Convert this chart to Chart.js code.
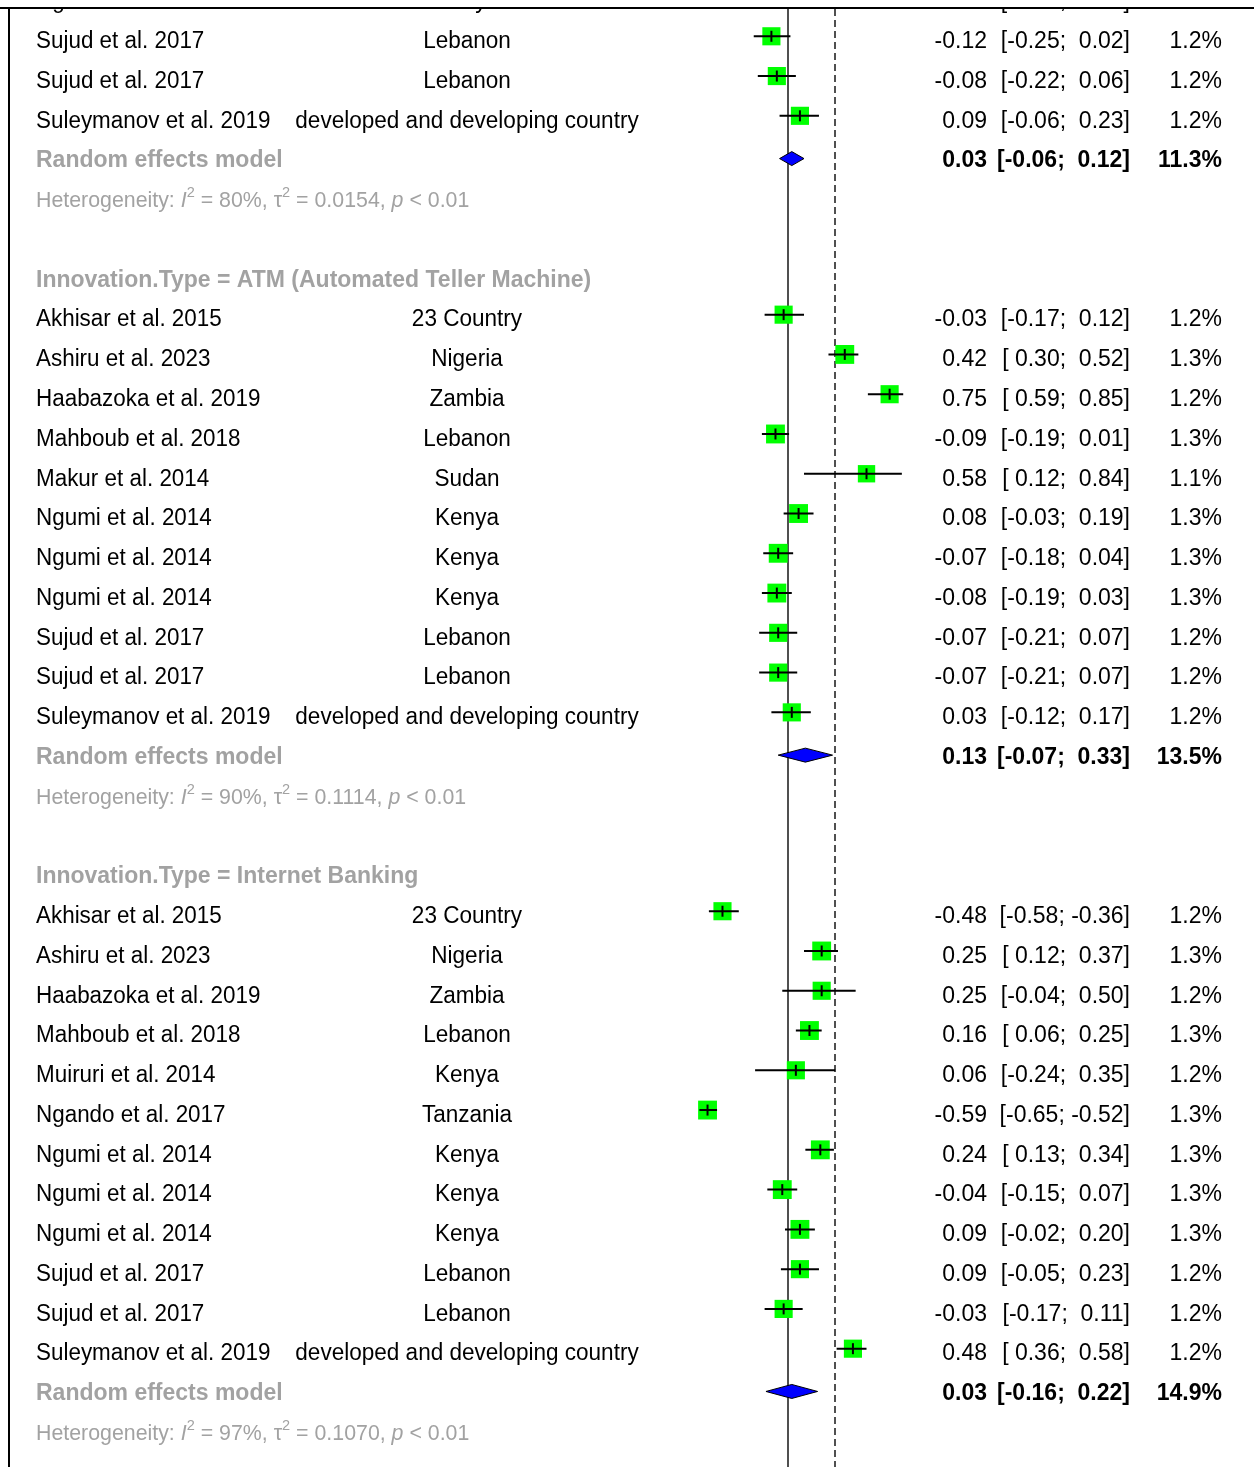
<!DOCTYPE html>
<html>
<head>
<meta charset="utf-8">
<script src="https://cdn.jsdelivr.net/npm/chart.js@4.4.0/dist/chart.umd.min.js"></script>
<style>
  html, body { margin: 0; padding: 0; background: #fff; }
  #forest { display: block; }
</style>
</head>
<body>
<canvas id="forest" width="1254" height="1467"></canvas>
<script>
// subgroup headings (the first subgroup starts above the visible window)
const groupTitles = [
  null,
  'Innovation.Type = ATM (Automated Teller Machine)',
  'Innovation.Type = Internet Banking'
];

// individual studies
const studyGroup = [0, 0, 0, 0,
  1, 1, 1, 1, 1, 1, 1, 1, 1, 1, 1,
  2, 2, 2, 2, 2, 2, 2, 2, 2, 2, 2, 2];
const studyNames = [
  'Ngumi et al. 2014', 'Sujud et al. 2017', 'Sujud et al. 2017', 'Suleymanov et al. 2019',
  'Akhisar et al. 2015', 'Ashiru et al. 2023', 'Haabazoka et al. 2019', 'Mahboub et al. 2018',
  'Makur et al. 2014', 'Ngumi et al. 2014', 'Ngumi et al. 2014', 'Ngumi et al. 2014',
  'Sujud et al. 2017', 'Sujud et al. 2017', 'Suleymanov et al. 2019',
  'Akhisar et al. 2015', 'Ashiru et al. 2023', 'Haabazoka et al. 2019', 'Mahboub et al. 2018',
  'Muiruri et al. 2014', 'Ngando et al. 2017', 'Ngumi et al. 2014', 'Ngumi et al. 2014',
  'Ngumi et al. 2014', 'Sujud et al. 2017', 'Sujud et al. 2017', 'Suleymanov et al. 2019'
];
const countries = [
  'Kenya', 'Lebanon', 'Lebanon', 'developed and developing country',
  '23 Country', 'Nigeria', 'Zambia', 'Lebanon', 'Sudan', 'Kenya', 'Kenya', 'Kenya',
  'Lebanon', 'Lebanon', 'developed and developing country',
  '23 Country', 'Nigeria', 'Zambia', 'Lebanon', 'Kenya', 'Tanzania', 'Kenya', 'Kenya',
  'Kenya', 'Lebanon', 'Lebanon', 'developed and developing country'
];
const estimates = [-0.05, -0.12, -0.08, 0.09,
  -0.03, 0.42, 0.75, -0.09, 0.58, 0.08, -0.07, -0.08, -0.07, -0.07, 0.03,
  -0.48, 0.25, 0.25, 0.16, 0.06, -0.59, 0.24, -0.04, 0.09, 0.09, -0.03, 0.48];
const ciLower = [-0.16, -0.25, -0.22, -0.06,
  -0.17, 0.30, 0.59, -0.19, 0.12, -0.03, -0.18, -0.19, -0.21, -0.21, -0.12,
  -0.58, 0.12, -0.04, 0.06, -0.24, -0.65, 0.13, -0.15, -0.02, -0.05, -0.17, 0.36];
const ciUpper = [0.06, 0.02, 0.06, 0.23,
  0.12, 0.52, 0.85, 0.01, 0.84, 0.19, 0.04, 0.03, 0.07, 0.07, 0.17,
  -0.36, 0.37, 0.50, 0.25, 0.35, -0.52, 0.34, 0.07, 0.20, 0.23, 0.11, 0.58];
const weights = [1.3, 1.2, 1.2, 1.2,
  1.2, 1.3, 1.2, 1.3, 1.1, 1.3, 1.3, 1.3, 1.2, 1.2, 1.2,
  1.2, 1.3, 1.2, 1.3, 1.2, 1.3, 1.3, 1.3, 1.3, 1.2, 1.2, 1.2];

// random effects summaries per subgroup
const pooledEst = [0.03, 0.13, 0.03];
const pooledLower = [-0.06, -0.07, -0.16];
const pooledUpper = [0.12, 0.33, 0.22];
const pooledWeight = [11.3, 13.5, 14.9];
const hetI2 = ['80%', '90%', '97%'];
const hetTau2 = ['0.0154', '0.1114', '0.1070'];
const hetP = ['< 0.01', '< 0.01', '< 0.01'];

// overall pooled estimate (dashed line)
const overallEffect = 0.35;

// lay the rows out top to bottom
const studyRow = [], titleRow = [], pooledRow = [], hetRow = [];
let r = -1;
groupTitles.forEach((t, g) => {
  if (t) titleRow[g] = r++;
  studyGroup.forEach((sg, i) => { if (sg === g) studyRow[i] = r++; });
  pooledRow[g] = r++;
  hetRow[g] = r++;
  r++;
});

const FONT = '"Liberation Sans", Arial, sans-serif';
const GREY = '#a2a2a2';
const TEXT_SHIFT = 11.8;   // baseline below the row centre
const DIAMOND_SHIFT = 3;

const fmt = v => v.toFixed(2).padStart(5, ' ');
const ciText = (lo, hi) => '[' + fmt(lo) + '; ' + fmt(hi) + ']';

// text helper; sx squeezes the glyphs a little horizontally
function put(ctx, s, x, y, align, font, color, sx = 1) {
  ctx.save();
  ctx.font = font;
  ctx.fillStyle = color;
  ctx.textAlign = align;
  ctx.textBaseline = 'alphabetic';
  ctx.translate(x, y);
  ctx.scale(sx, 1);
  ctx.fillText(s, 0, 0);
  const w = ctx.measureText(s).width * sx;
  ctx.restore();
  return w;
}

function drawHet(ctx, g, x, y) {
  const sx = 0.97;
  const normal = '22px ' + FONT, italic = 'italic 22px ' + FONT, sup = '15px ' + FONT;
  const parts = [
    ['Heterogeneity: ', normal, 0], ['I', italic, 0], ['2', sup, -10],
    [' = ' + hetI2[g] + ', ', normal, 0], ['\u03c4', normal, 0], ['2', sup, -10],
    [' = ' + hetTau2[g] + ', ', normal, 0], ['p', italic, 0], [' ' + hetP[g], normal, 0]
  ];
  let cx = x;
  parts.forEach(([s, f, dy]) => {
    cx += put(ctx, s, cx, y + dy, 'left', f, GREY, sx);
  });
}

const forestDecor = {
  id: 'forestDecor',
  beforeDatasetsDraw(chart) {
    const { ctx, chartArea, scales: { x } } = chart;
    ctx.save();
    ctx.strokeStyle = '#505050';
    ctx.lineWidth = 2;
    const x0 = Math.round(x.getPixelForValue(0));
    ctx.beginPath();
    ctx.moveTo(x0, chartArea.top);
    ctx.lineTo(x0, chartArea.bottom);
    ctx.stroke();
    const xo = Math.round(x.getPixelForValue(overallEffect));
    ctx.setLineDash([7, 4]);
    ctx.beginPath();
    ctx.moveTo(xo, chartArea.top);
    ctx.lineTo(xo, chartArea.bottom);
    ctx.stroke();
    ctx.restore();
  },
  afterDatasetsDraw(chart) {
    const { ctx, chartArea, scales: { x, y } } = chart;
    ctx.save();
    ctx.beginPath();
    ctx.rect(0, chartArea.top, chart.width, chartArea.bottom - chartArea.top);
    ctx.clip();

    // pooled diamonds
    pooledEst.forEach((e, g) => {
      const yc = y.getPixelForValue(pooledRow[g]) + DIAMOND_SHIFT;
      ctx.beginPath();
      ctx.moveTo(x.getPixelForValue(pooledLower[g]), yc);
      ctx.lineTo(x.getPixelForValue(e), yc - 7);
      ctx.lineTo(x.getPixelForValue(pooledUpper[g]), yc);
      ctx.lineTo(x.getPixelForValue(e), yc + 7);
      ctx.closePath();
      ctx.fillStyle = '#0000ff';
      ctx.fill();
      ctx.strokeStyle = '#000';
      ctx.lineWidth = 1;
      ctx.stroke();
    });

    const reg = '23px ' + FONT, bold = 'bold 23px ' + FONT;
    studyNames.forEach((name, i) => {
      const yy = y.getPixelForValue(studyRow[i]) + TEXT_SHIFT;
      put(ctx, name, 36, yy, 'left', reg, '#000', 0.975);
      put(ctx, countries[i], 467, yy, 'center', reg, '#000', 0.98);
      put(ctx, estimates[i].toFixed(2), 987, yy, 'right', reg, '#000');
      put(ctx, ciText(ciLower[i], ciUpper[i]), 1130, yy, 'right', reg, '#000');
      put(ctx, weights[i].toFixed(1) + '%', 1222, yy, 'right', reg, '#000');
    });
    groupTitles.forEach((t, g) => {
      if (t) put(ctx, t, 36, y.getPixelForValue(titleRow[g]) + TEXT_SHIFT, 'left', bold, GREY);
      const yy = y.getPixelForValue(pooledRow[g]) + TEXT_SHIFT;
      put(ctx, 'Random effects model', 36, yy, 'left', bold, GREY);
      put(ctx, pooledEst[g].toFixed(2), 987, yy, 'right', bold, '#000');
      put(ctx, ciText(pooledLower[g], pooledUpper[g]), 1130, yy, 'right', bold, '#000');
      put(ctx, pooledWeight[g].toFixed(1) + '%', 1222, yy, 'right', bold, '#000');
      drawHet(ctx, g, 36, y.getPixelForValue(hetRow[g]) + TEXT_SHIFT);
    });
    ctx.restore();
  },
  afterDraw(chart) {
    const { ctx } = chart;
    ctx.save();
    ctx.fillStyle = '#000';
    ctx.fillRect(0, 7, chart.width, 2);
    ctx.fillRect(8, 7, 2, chart.height - 7);
    ctx.restore();
  }
};

new Chart(document.getElementById('forest'), {
  type: 'scatter',
  data: {
    datasets: [
      {
        // study squares, sized by weight
        data: estimates.map((e, i) => ({ x: e, y: studyRow[i] })),
        pointStyle: 'rect',
        pointRadius: c => 11.7 * Math.sqrt(weights[c.dataIndex]),
        backgroundColor: '#00ff00',
        borderWidth: 0,
        order: 3
      },
      {
        // confidence intervals
        data: estimates.flatMap((e, i) => [
          { x: ciLower[i], y: studyRow[i] },
          { x: ciUpper[i], y: studyRow[i] },
          { x: null, y: studyRow[i] }
        ]),
        showLine: true,
        spanGaps: false,
        borderColor: '#000',
        borderWidth: 2,
        pointRadius: 0,
        order: 2
      },
      {
        // tick at each point estimate
        data: estimates.map((e, i) => ({ x: e, y: studyRow[i] })),
        pointStyle: 'line',
        rotation: 90,
        pointRadius: 5.5,
        borderColor: '#000',
        borderWidth: 2,
        order: 1
      }
    ]
  },
  options: {
    responsive: false,
    animation: false,
    events: [],
    layout: { autoPadding: false, padding: { left: 679, right: 344, top: 9, bottom: 0 } },
    plugins: { legend: { display: false }, tooltip: { enabled: false } },
    scales: {
      x: { type: 'linear', min: -0.8, max: 0.9, display: false },
      y: { type: 'linear', min: -0.686, max: 35.975, reverse: true, display: false }
    }
  },
  plugins: [forestDecor]
});
</script>
</body>
</html>
